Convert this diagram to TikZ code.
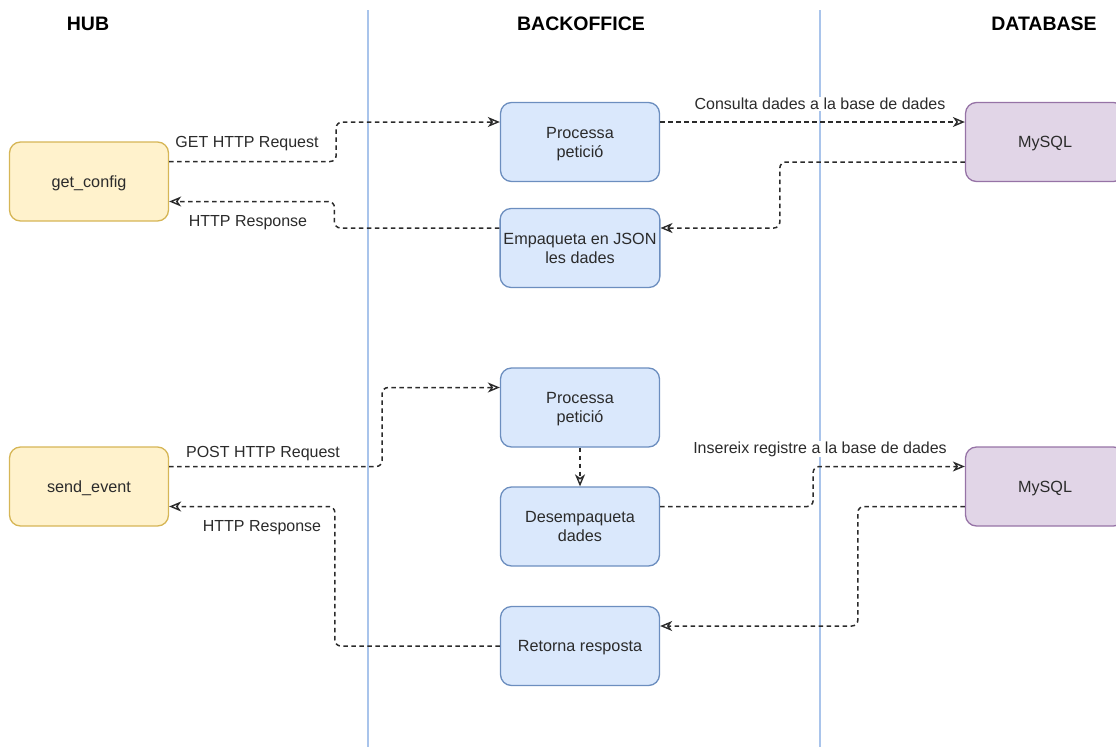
\documentclass[tikz,border=0pt]{standalone}
\usepackage{fontspec}
\setmainfont{Liberation Sans}
\usetikzlibrary{arrows.meta,calc}
\definecolor{bluefill}{HTML}{DAE8FC}
\definecolor{bluedraw}{HTML}{6C8EBF}
\definecolor{yelfill}{HTML}{FFF2CC}
\definecolor{yeldraw}{HTML}{D6B656}
\definecolor{purfill}{HTML}{E1D5E7}
\definecolor{purdraw}{HTML}{9673A6}
\definecolor{lane}{HTML}{A9C4EB}
\definecolor{ink}{HTML}{2B2B2B}
\tikzset{
  box/.style={rounded corners=11pt, minimum width=159pt, minimum height=79pt,
    line width=1.3pt, align=center, text depth=0pt, font=\fontsize{16.2}{19}\selectfont, text=ink},
  hubbox/.style={box, fill=yelfill, draw=yeldraw},
  bobox/.style={box, fill=bluefill, draw=bluedraw},
  dbbox/.style={box, fill=purfill, draw=purdraw},
  header/.style={font=\fontsize{19.5}{22}\selectfont\bfseries, text=black},
  lbl/.style={fill=white, inner sep=1pt, font=\fontsize{16}{19}\selectfont, text=ink},
  tipped/.style={draw=ink, line width=1.5pt, dash pattern=on 4.5pt off 3.5pt,
    -{Stealth[open, length=12pt, width=10pt, inset=3.5pt, line width=1.4pt]}},
  conn/.style={tipped, rounded corners=6pt},
  straightconn/.style={tipped},
  laneline/.style={draw=lane, line width=1.5pt}
}
\begin{document}
\begin{tikzpicture}[x=1pt, y=-1pt]
  \useasboundingbox (0,0) rectangle (1116,747);

  % swimlane separators and headers
  \draw[laneline] (368,10) -- (368,747);
  \draw[laneline] (820,10) -- (820,747);
  \node[header] (hHub) at (88,24) {HUB};
  \node[header] (hBack) at (581,24) {BACKOFFICE};
  \node[header] (hDb) at (1044,24) {DATABASE};

  % get_config flow
  \node[hubbox] (gc) at (89,181.5) {get\_config};
  \node[bobox] (p1) at (580,142) {Processa\\petició};
  \node[bobox] (e1) at (580,248) {Empaqueta en JSON\\les dades};
  \node[dbbox] (db1) at (1045,142) {MySQL};

  % send_event flow
  \node[hubbox] (se) at (89,486.5) {send\_event};
  \node[bobox] (p2) at (580,407.5) {Processa\\petició};
  \node[bobox] (d2) at (580,526.5) {Desempaqueta\\dades};
  \node[bobox] (r2) at (580,646) {Retorna resposta};
  \node[dbbox] (db2) at (1045,486.5) {MySQL};

  % connectors, get_config
  \draw[conn] ([yshift=20pt]gc.east) -- ++(167,0) |- ([yshift=20pt]p1.west);
  \draw[straightconn] ([yshift=20pt]p1.east) -- ([yshift=20pt]db1.west);
  \draw[conn] ([yshift=-20pt]db1.west) -- ++(-185,0) |- ([yshift=20pt]e1.east);
  \draw[conn] ([yshift=20pt]e1.west) -- ++(-165,0) |- ([yshift=-20pt]gc.east);

  % connectors, send_event
  \draw[conn] ([yshift=20pt]se.east) -- ++(213,0) |- ([yshift=20pt]p2.west);
  \draw[straightconn] (p2.south) -- (d2.north);
  \draw[conn] ([yshift=20pt]d2.east) -- ++(153,0) |- ([yshift=20pt]db2.west);
  \draw[conn] ([yshift=-20pt]db2.west) -- ++(-107,0) |- ([yshift=20pt]r2.east);
  \draw[conn] (r2.west) -- ++(-165,0) |- ([yshift=-20pt]se.east);

  % connector labels
  \node[lbl] (lGet) at (247,144) {GET HTTP Request};
  \node[lbl] (lResp1) at (248,223) {HTTP Response};
  \node[lbl] (lCons) at (820,104) {Consulta dades a la base de dades};
  \node[lbl] (lPost) at (263,454) {POST HTTP Request};
  \node[lbl] (lIns) at (820,449) {Insereix registre a la base de dades};
  \node[lbl] (lResp2) at (262,528) {HTTP Response};
\end{tikzpicture}
\end{document}
